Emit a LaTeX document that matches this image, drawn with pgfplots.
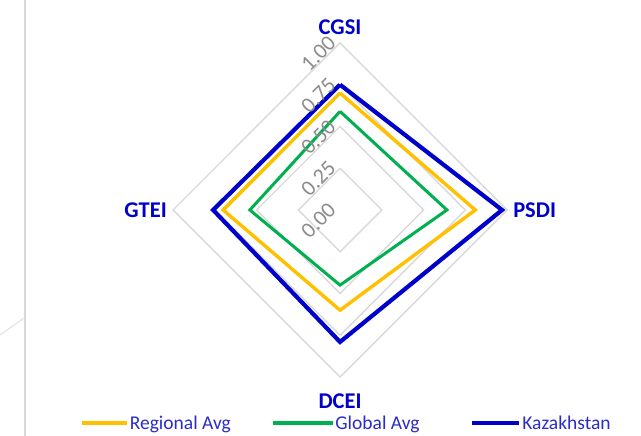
\documentclass[border=0pt]{standalone}
\usepackage{fontspec}
\setmainfont{Carlito}
\usepackage{pgfplots}
\pgfplotsset{compat=1.18}
\definecolor{cyel}{HTML}{FFC000}
\definecolor{cgrn}{HTML}{00B050}
\definecolor{cblu}{HTML}{0000CC}
\definecolor{clab}{HTML}{0000CC}
\definecolor{cleg}{HTML}{2B2BC8}
\definecolor{cgrid}{HTML}{D9D9D9}
\definecolor{ctick}{HTML}{8C8C8C}
\begin{document}
\begin{tikzpicture}
\useasboundingbox (0,0) rectangle (641pt,436pt);
\begin{axis}[
  at={(0,0)}, anchor=south west,
  width=641pt, height=436pt, scale only axis,
  xmin=-2.036, xmax=1.802, ymin=-1.353, ymax=1.257,
  hide axis, clip=false,
  legend columns=3,
  legend style={draw=none, fill=none, inner sep=0pt,
    at={(axis description cs:0.1248,0.0298)}, anchor=west,
    font=\fontsize{19.5}{22}\selectfont\color{cleg},
    nodes={inner sep=1pt},
    /tikz/every even column/.append style={column sep=0pt}},
]
% grid rings
\foreach \r in {0.25,0.5,0.75,1} {
  \edef\tmp{\noexpand\addplot[cgrid, line width=1.4pt, forget plot] coordinates {(0,\r) (\r,0) (0,-\r) (-\r,0) (0,\r)};}
  \tmp
}
% Series: order CGSI(top), PSDI(right), DCEI(bottom), GTEI(left)
\addplot[cyel, line width=3.4pt, line join=miter,
  legend image code/.code={\draw[cyel, line width=3.6pt] (0pt,0pt) -- (45pt,0pt);}]
  coordinates {(0,0.70) (0.81,0) (0,-0.60) (-0.70,0) (0,0.70)};
\addlegendentry{\makebox[140pt][l]{Regional Avg}}
\addplot[cgrn, line width=3pt, line join=miter,
  legend image code/.code={\draw[cgrn, line width=3.6pt] (0pt,0pt) -- (60pt,0pt);}]
  coordinates {(0,0.59) (0.64,0) (0,-0.45) (-0.54,0) (0,0.59)};
\addlegendentry{\makebox[134pt][l]{Global Avg}}
\addplot[cblu, line width=4.2pt, line join=miter,
  legend image code/.code={\draw[cblu, line width=4pt] (0pt,0pt) -- (47pt,0pt);}]
  coordinates {(0,0.75) (0.97,0) (0,-0.79) (-0.76,0) (0,0.75)};
\addlegendentry{Kazakhstan}
% tick labels
\foreach \r/\t in {0/0.00,0.25/0.25,0.5/0.50,0.75/0.75,1/1.00} {
  \pgfmathsetmacro{\yy}{\r-0.064}
  \edef\tmp{\noexpand\node[rotate=45, text=ctick, font=\noexpand\fontsize{22}{24}\noexpand\selectfont, inner sep=0pt] at (axis cs:-0.13,\yy) {\t};}
  \tmp
}
% category labels
\node[anchor=base, text=clab, font=\fontsize{22.5}{24}\selectfont\bfseries, inner sep=0pt] at (axis cs:0,1.048) {CGSI};
\node[anchor=west, text=clab, font=\fontsize{22.5}{24}\selectfont\bfseries, inner sep=0pt] at (axis cs:1.036,0) {PSDI};
\node[anchor=east, text=clab, font=\fontsize{22.5}{24}\selectfont\bfseries, inner sep=0pt] at (axis cs:-1.036,0) {GTEI};
\node[anchor=base, text=clab, font=\fontsize{22.5}{24}\selectfont\bfseries, inner sep=0pt] at (axis cs:0,-1.186) {DCEI};
\end{axis}
\draw[cgrid, line width=2pt] (25pt,0pt) -- (25pt,436pt);
\draw[cgrid!70, line width=1.2pt] (0pt,101pt) -- (24pt,118pt);
\end{tikzpicture}
\end{document}
